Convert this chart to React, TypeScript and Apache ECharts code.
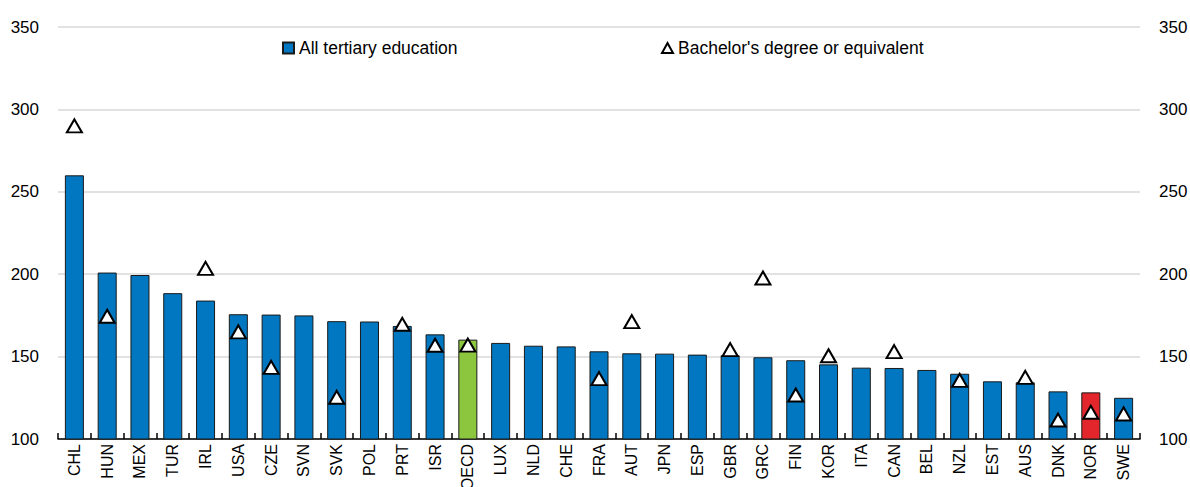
import React, { useEffect, useRef } from "react";
import * as echarts from "echarts";

const categories = ["CHL","HUN","MEX","TUR","IRL","USA","CZE","SVN","SVK","POL","PRT","ISR","OECD","LUX","NLD","CHE","FRA","AUT","JPN","ESP","GBR","GRC","FIN","KOR","ITA","CAN","BEL","NZL","EST","AUS","DNK","NOR","SWE"];
const allTertiary = [260,201,199.5,188.5,184,175.7,175.5,175,171.5,171.3,168.6,163.5,160.3,158.3,156.6,156.2,153.2,152,151.8,151.2,150.8,149.6,147.8,145.3,143.3,143.1,141.9,139.6,135,134.4,128.9,128.3,125];
const bachelor: (number | null)[] = [290,174.5,null,null,203.5,165,143.5,null,125.3,null,169.6,156.9,157,null,null,null,136.6,171.2,null,null,154.2,197.7,126.7,150.5,null,153,null,135.6,null,137.4,111.5,116.2,115.2];
const yTicks = { min: 100, max: 350, interval: 50 };

const BLUE = "#0077c0";
const GREEN = "#8cc63f";
const RED = "#e2262b";
const FONT = "Arial, 'Liberation Sans', sans-serif";

export default function App() {
  const ref = useRef<HTMLDivElement>(null);
  useEffect(() => {
    document.body.style.margin = "0";
    if (!ref.current) return;
    const chart = echarts.init(ref.current, null, { renderer: "svg" });
    const barData = allTertiary.map((v, i) => {
      const c = categories[i];
      if (c === "OECD") return { value: v, itemStyle: { color: GREEN } };
      if (c === "NOR") return { value: v, itemStyle: { color: RED } };
      return v;
    });
    const yAxisBase = {
      type: "value" as const,
      min: yTicks.min,
      max: yTicks.max,
      interval: yTicks.interval,
      axisLine: { show: false },
      axisTick: { show: false },
      axisLabel: { color: "#000", fontSize: 17, fontFamily: FONT, margin: 19 },
    };
    chart.setOption({
      animation: false,
      textStyle: { fontFamily: FONT },
      grid: { left: 58, right: 50, top: 27, bottom: 48, containLabel: false, outerBoundsMode: "none" },
      legend: [
        {
          data: ["All tertiary education"],
          left: 277,
          top: 34,
          icon: "rect",
          itemWidth: 11,
          itemHeight: 11,
          itemGap: 5,
          textStyle: { color: "#000", fontSize: 17.5, fontFamily: FONT },
        },
        {
          data: ["Bachelor's degree or equivalent"],
          left: 656,
          top: 34,
          icon: "triangle",
          itemWidth: 11,
          itemHeight: 10,
          textStyle: { color: "#000", fontSize: 17.5, fontFamily: FONT },
        },
      ],
      xAxis: {
        type: "category",
        data: categories,
        boundaryGap: true,
        axisLine: { lineStyle: { color: "#000", width: 1.5 } },
        axisTick: { show: true, inside: true, length: 6, lineStyle: { color: "#000", width: 1.5 }, alignWithLabel: false },
        axisLabel: { rotate: 90, color: "#000", fontSize: 16, fontFamily: FONT, margin: 5, interval: 0 },
        splitLine: { show: false },
      },
      yAxis: [
        { ...yAxisBase, position: "left", splitLine: { show: true, lineStyle: { color: "#d9d9d9", width: 1.5 } } },
        { ...yAxisBase, position: "right", splitLine: { show: false } },
      ],
      series: [
        {
          name: "All tertiary education",
          type: "bar",
          data: barData,
          barWidth: "58%",
          itemStyle: { color: BLUE, borderColor: "#1a1a1a", borderWidth: 1 },
          z: 2,
        },
        {
          name: "Bachelor's degree or equivalent",
          type: "scatter",
          data: bachelor,
          symbol: "triangle",
          symbolSize: [15, 13],
          itemStyle: { color: "#fff", borderColor: "#000", borderWidth: 2, opacity: 1 },
          z: 3,
        },
      ],
    });
    return () => chart.dispose();
  }, []);
  return <div ref={ref} style={{ width: 1190, height: 487 }} />;
}
